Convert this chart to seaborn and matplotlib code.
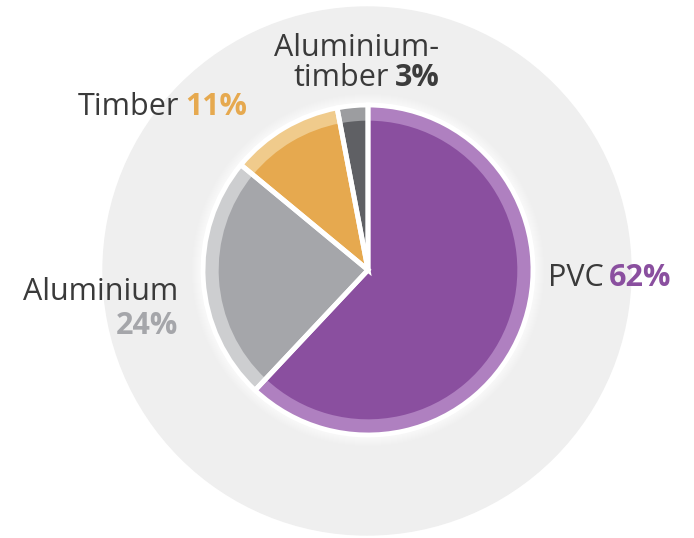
import matplotlib
matplotlib.use("Agg")
import matplotlib.pyplot as plt
from matplotlib.patches import Circle
import seaborn as sns

# data
materials = ["PVC", "Aluminium", "Timber", "Aluminium-\ntimber"]
shares = [62, 24, 11, 3]
dark_colors = ["#8A4F9F", "#A5A6AA", "#E6A94F", "#5F6064"]
light_colors = ["#AF80C0", "#CDCED0", "#F0CB8C", "#9C9DA0"]
pct_colors = ["#8A4F9F", "#A5A6AA", "#E6A94F", "#3C3C3C"]

sns.set_theme(style="white")
plt.rcParams['font.family'] = ['Open Sans', 'DejaVu Sans']

W, H = 694, 538
fig = plt.figure(figsize=(W / 100, H / 100), dpi=100)
ax = fig.add_axes([0, 0, 1, 1])

cx, cy = 368, H - 270
R = 165

# big grey disc behind the pie
ax.add_patch(Circle((367, H - 271), 264, color="#EFEFEF", zorder=0))
# soft white glow round the pie
for k in range(1, 12):
    ax.add_patch(Circle((cx, cy), R + k, color="white", alpha=0.12, lw=0, zorder=1))

# light outer rim, darker inner part, white separators on top
ax.pie(shares, center=(cx, cy), radius=R, startangle=90, counterclock=False,
       colors=light_colors, wedgeprops=dict(linewidth=0, zorder=2))
ax.pie(shares, center=(cx, cy), radius=R * 0.905, startangle=90, counterclock=False,
       colors=dark_colors, wedgeprops=dict(linewidth=0, zorder=3))
ax.pie(shares, center=(cx, cy), radius=R, startangle=90, counterclock=False,
       colors=["none"] * 4, wedgeprops=dict(edgecolor="white", linewidth=3.5, zorder=4))

ax.set_xlim(0, W)
ax.set_ylim(0, H)
ax.set_aspect("equal")
ax.axis("off")

fs = 22
txt = "#3A3A3A"

# PVC 62%
t = ax.text(548, H - 278, "PVC", fontsize=fs, color=txt, ha="left", va="center")
ax.annotate("62%", xy=(1, 0.5), xycoords=t, xytext=(4, 0), textcoords="offset points",
            fontsize=fs, color=pct_colors[0], weight="bold", ha="left", va="center")

# Timber 11%
t = ax.text(78, H - 107, "Timber", fontsize=fs, color=txt, ha="left", va="center")
ax.annotate("11%", xy=(1, 0.5), xycoords=t, xytext=(4, 0), textcoords="offset points",
            fontsize=fs, color=pct_colors[2], weight="bold", ha="left", va="center")

# Aluminium 24%
ax.text(178, H - 292, "Aluminium", fontsize=fs, color=txt, ha="right", va="center")
ax.text(178, H - 326, "24%", fontsize=fs, color=pct_colors[1], weight="bold",
        ha="right", va="center")

# Aluminium-timber 3%
ax.text(357, H - 48, "Aluminium-", fontsize=fs, color=txt, ha="center", va="center")
t = ax.text(294, H - 78, "timber", fontsize=fs, color=txt, ha="left", va="center")
ax.annotate("3%", xy=(1, 0.5), xycoords=t, xytext=(4, 0), textcoords="offset points",
            fontsize=fs, color=pct_colors[3], weight="bold", ha="left", va="center")

fig.savefig("out.png", dpi=100, facecolor="white")
